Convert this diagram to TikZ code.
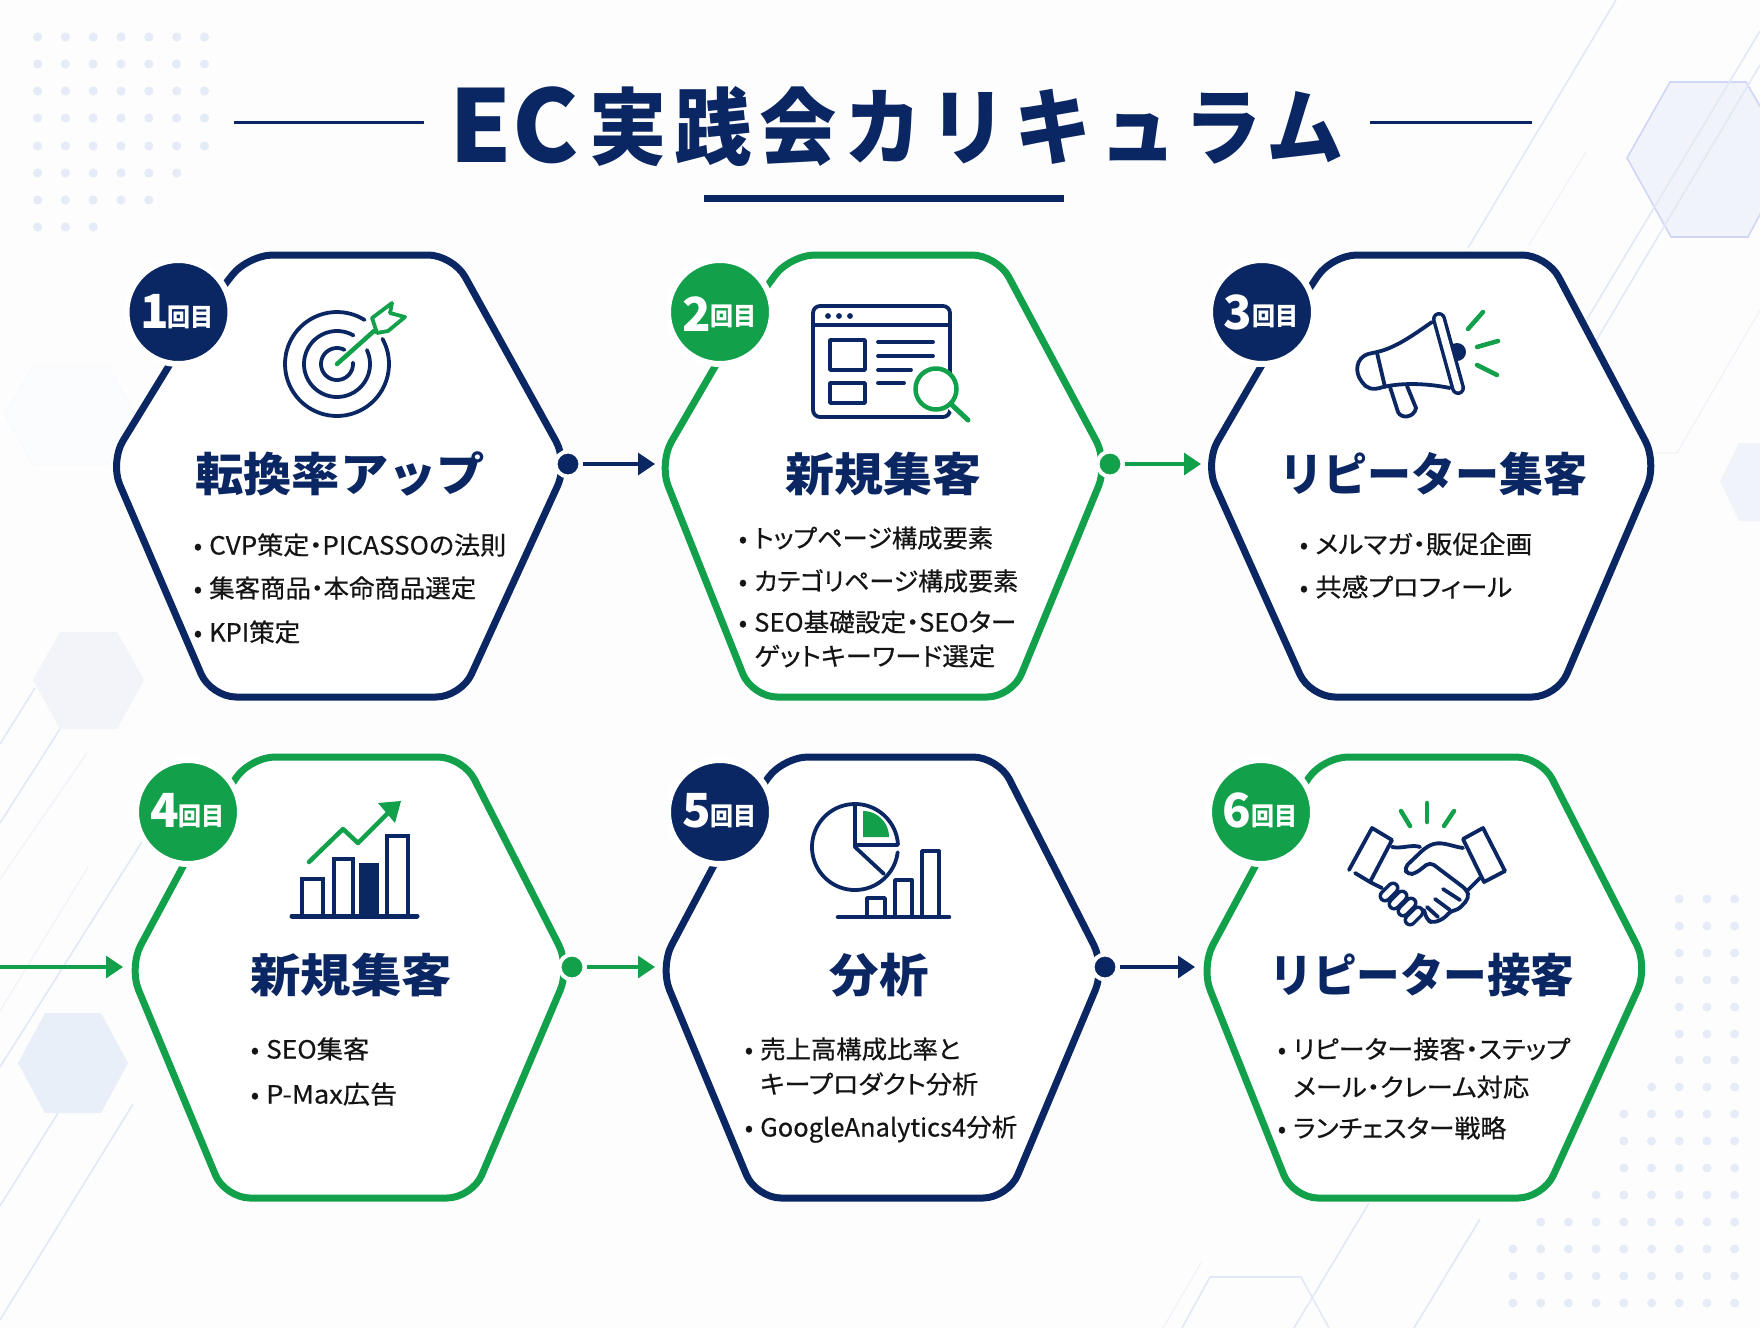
\documentclass[tikz,border=0pt]{standalone}
\usepackage{fontspec}
\usetikzlibrary{arrows.meta}
\setmainfont{Noto Sans CJK JP}
\newfontfamily\bodyf{Noto Sans CJK JP}[RawFeature=+palt,FakeBold=0.5]
\definecolor{navy}{HTML}{0B2763}
\definecolor{grn}{HTML}{12A04B}
\definecolor{ink}{HTML}{141414}
\definecolor{pagebg}{HTML}{FDFDFE}
\definecolor{dotc}{HTML}{E5ECF7}
\definecolor{linec}{HTML}{E1E9F6}
\definecolor{linef}{HTML}{F0F3F9}
\newsavebox\fitbox
\newcommand\fitw[2]{\sbox\fitbox{#2}\edef\fittmp{\the\wd\fitbox}\pgfmathsetmacro\fitr{(#1)/\fittmp}\scalebox{\fitr}[1]{\usebox\fitbox}}
\tikzset{
  hexpath/.style={line width=7pt,fill=white,rounded corners=25pt,line join=round},
  badge/.style={circle,fill=#1,draw=white,line width=6pt,minimum size=104pt,inner sep=0pt},
  dotnode/.style={circle,fill=#1,draw=white,line width=4pt,minimum size=25pt,inner sep=0pt},
  conn/.style={line width=3.2pt,draw=#1,-{Triangle[length=17pt,width=22pt,fill=#1]},shorten <=0pt},
  bnum/.style={text=white,font=\fontsize{47}{47}\selectfont\bfseries,inner sep=0pt,text height=41.4pt,text depth=5.6pt},
  bkai/.style={text=white,font=\fontsize{25}{25}\selectfont\bfseries,inner sep=0pt,text height=22pt,text depth=3pt},
  htitle/.style={text=navy,font=\fontsize{46}{46}\selectfont\bfseries,inner sep=0pt,text height=40.5pt,text depth=5.5pt},
  bodyt/.style={text=ink,font=\fontsize{25}{25}\selectfont\bodyf,anchor=west,inner sep=0pt,text height=22pt,text depth=3pt},
  ico/.style={draw=navy,line width=3.8pt,line cap=round,line join=round},
  icg/.style={draw=grn,line width=4.5pt,line cap=round,line join=round},
  deco/.style={draw=linec,line width=1.6pt},
  decof/.style={draw=linef,line width=1.4pt},
}
\newcommand\bline[5]{\node[bodyt] (#1) at (#2,#3) {\llap{•\hspace{7pt}}\fitw{#4-#2}{#5}};}
\newcommand\contline[5]{\node[bodyt] (#1) at (#2,#3) {\fitw{#4-#2}{#5}};}
\newcommand\parc[5]{plot[domain=#4:#5,samples=40,smooth,variable=\t] ({#1+#3*cos(\t)},{#2-#3*sin(\t)})}
\begin{document}
\begin{tikzpicture}[x=1pt,y=-1pt]
\useasboundingbox (0,0) rectangle (1760,1328);
\clip (0,0) rectangle (1760,1328);
\fill[pagebg] (0,0) rectangle (1760,1328);

% background dots
\foreach \y/\n in {37/7,64/7,91/7,118/7,146/7,173/6,200/5,227/3}{
  \foreach \i in {1,...,\n}{
    \fill[dotc] ({37.6+(\i-1)*27.8},\y) circle (4.6pt);
  }
}
\foreach \y/\s in {899/6,926/6,953/6,980/6,1007/6,1034/6,1060/6,1087/5,1114/4,1141/4,1168/4,1195/3,1222/1,1249/0,1276/0,1303/0}{
  \foreach \i in {\s,...,8}{
    \fill[dotc] ({1513+\i*27.7},\y) circle (4.5pt);
  }
}

% background hexagons and lines
\path[fill=linef!25,draw=linef!70] (33,365) -- (107,365) -- (135,415) -- (107,465) -- (33,465) -- (5,415) -- cycle;
\path[fill=linef!90] (60,632) -- (117,632) -- (144,680) -- (117,729) -- (60,729) -- (33,680) -- cycle;
\path[fill=dotc!85] (45,1013) -- (101,1013) -- (128,1063) -- (101,1113) -- (45,1113) -- (18,1063) -- cycle;
\path[fill=linef,draw=linec!90!blue!90,line width=1.6pt] (1670,82) -- (1746,82) -- (1790,158) -- (1748,237) -- (1671,237) -- (1627,158) -- cycle;
\path[fill=linef] (1739,443) -- (1780,443) -- (1780,521) -- (1739,521) -- (1720,481) -- cycle;
\draw[deco] (1616,0) -- (1468,248);
\draw[deco] (1760,31) -- (1586,321);
\draw[deco] (1760,65) -- (1596,341);
\draw[decof] (1586,152) -- (1529,245);
\draw[decof] (1760,310) -- (1677,453) -- (1640,453);
\draw[deco] (0,744) -- (35,688);
\draw[deco] (0,823) -- (60,729);
\draw[decof] (0,879) -- (87,753);
\draw[decof] (0,1011) -- (88,867);
\draw[deco] (0,1067) -- (145,837);
\draw[deco] (0,1206) -- (58,1113);
\draw[deco] (0,1320) -- (133,1104);
\draw[deco] (1182,1328) -- (1210,1277) -- (1301,1277) -- (1329,1328);
\draw[deco] (1369,1203) -- (1294,1328);
\draw[deco] (1480,1219) -- (1414,1328);
\draw[decof] (1201,1263) -- (1163,1328);

% title
\node[text=navy,inner sep=0pt,anchor=base west,font=\bfseries] (title) at (449,162) {\fontsize{100}{100}\selectfont\fitw{130}{E\hspace{1pt}C}\hspace{10pt}\raisebox{4pt}{\fontsize{84}{84}\selectfont\addfontfeature{LetterSpace=10}\fitw{755}{実践会カリキュラム}}};
\coordinate (tl1) at (234,122); \coordinate (tl2) at (424,122);
\coordinate (tr1) at (1370,122); \coordinate (tr2) at (1532,122);
\coordinate (tu1) at (704,198); \coordinate (tu2) at (1064,198);
\draw[navy,line width=3pt] (tl1) -- (tl2);
\draw[navy,line width=3pt] (tr1) -- (tr2);
\draw[navy,line width=7pt] (tu1) -- (tu2);

% hexagons
\draw[hexpath,draw=navy] (350,255) -- (453,255) -- (568,463) -- (461,697) -- (211,697) -- (110,462) -- (197,320) -- (248,255) [rounded corners=16pt] -- cycle;
\draw[hexpath,draw=grn] (900,255) -- (997,255) -- (1108,463) -- (1012,697) -- (752,697) -- (659,463) -- (742,320) -- (790,255) [rounded corners=16pt] -- cycle;
\draw[hexpath,draw=navy] (1440,255) -- (1547,255) -- (1657,463) -- (1557,697) -- (1310,697) -- (1205,463) -- (1288,320) -- (1332,255) [rounded corners=16pt] -- cycle;
\draw[hexpath,draw=grn] (350,757) -- (463,757) -- (570,967) -- (472,1198) -- (225,1198) -- (129,967) -- (208,820) -- (250,757) [rounded corners=16pt] -- cycle;
\draw[hexpath,draw=navy] (890,757) -- (998,757) -- (1105,967) -- (1008,1198) -- (756,1198) -- (660,967) -- (738,820) -- (783,757) [rounded corners=16pt] -- cycle;
\draw[hexpath,draw=grn] (1430,757) -- (1541,757) -- (1648,967) -- (1543,1198) -- (1293,1198) -- (1201,967) -- (1280,820) -- (1323,757) [rounded corners=16pt] -- cycle;

% connectors
\node[dotnode=navy] (d1) at (568,464) {};
\node[dotnode=grn] (d2) at (1110,464) {};
\node[dotnode=grn] (d4) at (572,967) {};
\node[dotnode=navy] (d5) at (1105,967) {};
\coordinate (a2) at (655,464);
\coordinate (a3) at (1201,464);
\coordinate (a4) at (123,967);
\coordinate (a5) at (655,967);
\coordinate (a6) at (1195,967);
\coordinate (in4) at (0,967);
\draw[conn=navy] (d1) -- (a2);
\draw[conn=grn] (d2) -- (a3);
\draw[conn=grn] (in4) -- (a4);
\draw[conn=grn] (d4) -- (a5);
\draw[conn=navy] (d5) -- (a6);

% badges
\node[badge=navy] (b1) at (178.5,312) {};
\node[badge=grn] (b2) at (720,312) {};
\node[badge=navy] (b3) at (1262,312) {};
\node[badge=grn] (b4) at (188,812) {};
\node[badge=navy] (b5) at (720,812) {};
\node[badge=grn] (b6) at (1261,812) {};
\node[bnum] (n1) at (155,311) {1};
\node[bkai] (k1) at (190,317) {\fitw{46}{回目}};
\node[bnum] (n2) at (697,314) {2};
\node[bkai] (k2) at (733,316) {\fitw{46}{回目}};
\node[bnum] (n3) at (1238,312) {3};
\node[bkai] (k3) at (1275,316) {\fitw{46}{回目}};
\node[bnum] (n4) at (165,810) {4};
\node[bkai] (k4) at (201,816) {\fitw{46}{回目}};
\node[bnum] (n5) at (697,810) {5};
\node[bkai] (k5) at (733,816) {\fitw{46}{回目}};
\node[bnum] (n6) at (1237,810) {6};
\node[bkai] (k6) at (1274,816) {\fitw{46}{回目}};

% hexagon titles
\node[htitle] (t1) at (340,474) {\fitw{290}{転換率アップ}};
\node[htitle] (t2) at (883,474) {\fitw{196}{新規集客}};
\node[htitle] (t3) at (1433,474) {\fitw{308}{リピーター集客}};
\node[htitle] (t4) at (351,975) {\fitw{202}{新規集客}};
\node[htitle] (t5) at (879,975) {\fitw{99}{分析}};
\node[htitle] (t6) at (1422,975) {\fitw{305}{リピーター接客}};

% body text
\bline{x11}{209}{545}{506}{CVP策定・PICASSOの法則}
\bline{x12}{209}{588}{476}{集客商品・本命商品選定}
\bline{x13}{209}{632}{300}{KPI策定}
\bline{x21}{754}{538}{993}{トップページ構成要素}
\bline{x22}{754}{581}{1018}{カテゴリページ構成要素}
\bline{x23}{754}{622}{1016}{SEO基礎設定・SEOター}
\contline{x24}{754}{656}{995}{ゲットキーワード選定}
\bline{x31}{1315}{544}{1532}{メルマガ・販促企画}
\bline{x32}{1315}{587}{1512}{共感プロフィール}
\bline{x41}{266}{1049}{369}{SEO集客}
\bline{x42}{266}{1094}{397}{P-Max広告}
\bline{x51}{760}{1049}{960}{売上高構成比率と}
\contline{x52}{760}{1084}{978}{キープロダクト分析}
\bline{x53}{760}{1127}{1017}{GoogleAnalytics4分析}
\bline{x61}{1293}{1049}{1570}{リピーター接客・ステップ}
\contline{x62}{1293}{1087}{1529}{メール・クレーム対応}
\bline{x63}{1293}{1128}{1506}{ランチェスター戦略}

% icon 1: target
\draw[ico] \parc{337}{364}{52}{58}{389};
\draw[ico] \parc{337}{364}{33}{60}{385};
\draw[ico] \parc{337}{364}{16}{62}{365};
\draw[icg] (337,364) -- (374,331);
\draw[icg,line width=3.8pt] (372,318) -- (392,303) -- (390,313) -- (405,317) -- (388,331) -- (377,333) -- cycle;

% icon 2: browser
\draw[ico,rounded corners=7pt] (813,306) rectangle (950,417);
\draw[ico,line cap=butt] (813,325) -- (950,325);
\fill[navy] (828,316) circle (2.9pt) (839,316) circle (2.9pt) (850,316) circle (2.9pt);
\draw[ico,line cap=butt] (830,340) rectangle (865,370);
\draw[ico,line cap=butt] (830,383) rectangle (865,403);
\draw[ico] (878,342) -- (933,342);
\draw[ico] (878,356) -- (933,356);
\draw[ico] (878,370) -- (911,370);
\draw[ico] (878,383) -- (904,383);
\draw[draw=white,line width=11pt,line cap=round] (952,405) -- (968,420);
\draw[icg,fill=white] (936,389) circle (20.5pt);
\draw[icg,line width=5pt] (952,405) -- (968,420);

% icon 3: megaphone
\fill[navy] (1457,352) circle (9pt);
\draw[ico,fill=white] (1390,387) -- (1398,412) .. controls (1401,419) and (1414,418) .. (1416,408) -- (1407,386);
\draw[ico,fill=white] (1432,322) .. controls (1412,336) and (1395,348) .. (1377,352) -- (1368,354) .. controls (1356,358) and (1354,372) .. (1362,382) .. controls (1366,388) and (1372,391) .. (1383,387) .. controls (1405,382) and (1430,384) .. (1450,388);
\draw[ico] (1377,353) -- (1385,387);
\draw[navy,line width=14pt,line cap=round] (1439,319) -- (1458,388);
\draw[white,line width=7pt,line cap=round] (1439,319) -- (1458,388);
\draw[icg] (1468,329) -- (1483,312);
\draw[icg] (1477,347) -- (1498,341);
\draw[icg] (1477,365) -- (1497,375);

% icon 4: growth chart
\draw[ico,line width=4.2pt,line cap=butt,line join=miter] (302,916) -- (302,879) -- (323,879) -- (323,916);
\draw[ico,line width=4.2pt,line cap=butt,line join=miter] (334,916) -- (334,859) -- (353,859) -- (353,916);
\fill[navy] (359,863) rectangle (379,916);
\draw[ico,line width=4.2pt,line cap=butt,line join=miter] (387,916) -- (387,836) -- (408,836) -- (408,916);
\draw[ico,line width=5pt] (292,916) -- (417,916);
\draw[icg] (309,862) -- (343,829) -- (358,843) -- (390,811);
\fill[grn] (401,801) -- (378,803) -- (395,823) -- cycle;

% icon 5: pie and bars
\draw[ico] \parc{855}{847}{43}{90}{353};
\draw[ico] \parc{855}{847}{43}{3}{90};
\draw[ico] (855,804) -- (855,847) -- (884,874);
\draw[ico] (857,845) -- (897,845);
\fill[grn] (863,837) -- (863,811) -- plot[domain=90:0,samples=16,smooth,variable=\t] ({863+26*cos(\t)},{837-26*sin(\t)}) -- cycle;
\draw[ico,line cap=butt] (867,917) -- (867,898) -- (885,898) -- (885,917);
\draw[ico,line cap=butt] (895,917) -- (895,880) -- (912,880) -- (912,917);
\draw[ico,line cap=butt] (922,917) -- (922,851) -- (939,851) -- (939,917);
\draw[ico,line width=4.5pt] (838,917) -- (949,917);

% icon 6: handshake
\draw[icg] (1401,811) -- (1410,826);
\draw[icg] (1427,803) -- (1427,822);
\draw[icg] (1454,811) -- (1444,826);
\draw[ico] (1349,870) -- (1372,828) -- (1392,840) -- (1370,882) -- (1355,873);
\draw[ico] (1463,839) -- (1483,828) -- (1505,871) -- (1484,882) -- cycle;
\draw[ico] (1392,847) .. controls (1402,849) and (1412,844) .. (1420,847);
\draw[ico,rounded corners=5pt] (1463,848) .. controls (1450,846) and (1440,840) .. (1425,848) -- (1404,868) -- (1408,875) -- (1416,873) -- (1430,862) -- (1467,890) -- (1469,898) -- (1458,910) -- (1450,911) -- (1445,918) -- (1433,923) -- (1427,920) -- (1424,910);
\draw[ico] (1480,878) -- (1468,890);
\draw[ico] (1370,882) -- (1382,888);
\draw[ico] (1443,889) -- (1460,900);
\draw[ico] (1435,899) -- (1450,910);
\draw[ico] (1427,907) -- (1438,917);
\foreach \cx/\cy in {1389/892,1398/900,1407/907,1414/916}{
  \draw[navy,line width=13pt,line cap=round] ({\cx-4},{\cy+4}) -- ({\cx+4},{\cy-4});
  \draw[white,line width=6pt,line cap=round] ({\cx-4},{\cy+4}) -- ({\cx+4},{\cy-4});
}
\end{tikzpicture}
\end{document}
